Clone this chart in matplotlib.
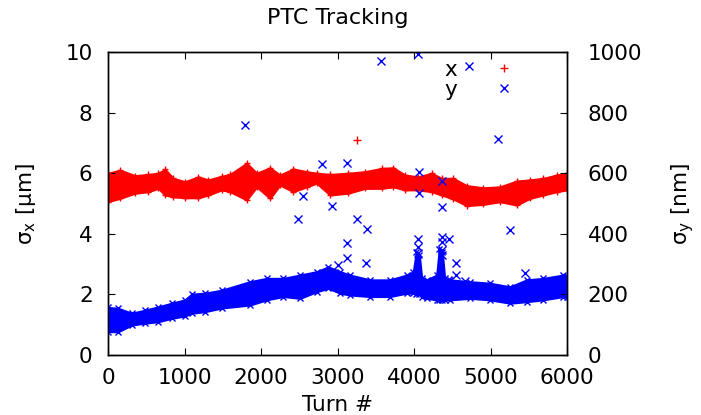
import matplotlib
matplotlib.use("Agg")
import matplotlib.pyplot as plt
from matplotlib.lines import Line2D

plt.rcParams['font.family'] = ['DejaVu Sans']
plt.rcParams['mathtext.default'] = 'regular'

# sigma_x band (um): turn, lower and upper edge of the point cloud
sx_turn = [0, 157, 353, 527, 658, 745, 854, 1007, 1180, 1311, 1486, 1595, 1813,
           1944, 2118, 2248, 2422, 2597, 2728, 2902, 3141, 3359, 3577, 3730,
           3882, 4056, 4231, 4362, 4514, 4689, 4906, 5124, 5342, 5516, 5690,
           5865, 6000]
sx_lo = [5.06, 5.17, 5.34, 5.39, 5.50, 5.28, 5.22, 5.19, 5.19, 5.28, 5.45, 5.39,
         5.12, 5.55, 5.17, 5.61, 5.39, 5.55, 5.67, 5.28, 5.34, 5.50, 5.50, 5.55,
         5.45, 5.45, 5.39, 5.28, 5.15, 4.93, 4.97, 5.06, 4.95, 5.17, 5.28, 5.39,
         5.45]
sx_hi = [6.00, 6.10, 5.92, 5.96, 6.00, 6.13, 5.83, 5.72, 5.88, 5.78, 5.90, 5.96,
         6.33, 6.00, 6.18, 5.94, 6.14, 6.05, 6.00, 5.96, 6.00, 6.05, 6.16, 6.18,
         5.94, 5.88, 6.00, 5.83, 5.83, 5.59, 5.52, 5.55, 5.74, 5.78, 5.83, 5.94,
         6.00]
sx_out_turn = [3255]
sx_out_val = [7.10]

# sigma_y band (nm)
sy_turn = [0, 135, 310, 484, 658, 832, 1007, 1094, 1268, 1486, 1856, 2074, 2292,
           2510, 2728, 2880, 3033, 3163, 3425, 3686, 3904, 3990, 4030, 4070,
           4100, 4166, 4297, 4330, 4370, 4400, 4471, 4732, 4993, 5255, 5473,
           5690, 5952, 6000]
sy_lo = [77, 77, 99, 105, 110, 121, 129, 138, 143, 155, 165, 182, 193, 187, 209,
         220, 204, 198, 193, 193, 204, 204, 200, 200, 190, 187, 182, 180, 180,
         182, 182, 187, 182, 171, 176, 182, 193, 193]
sy_hi = [157, 154, 138, 148, 159, 171, 182, 201, 204, 214, 242, 253, 253, 264,
         275, 291, 275, 264, 248, 248, 264, 275, 340, 330, 255, 248, 264, 350,
         340, 255, 248, 242, 237, 225, 248, 253, 264, 262]
sy_out_turn = [1790, 2800, 3125, 2550, 2930, 2480, 3120, 3120, 3010, 3570, 4050,
               4720, 5100, 4065, 4065, 4370, 4370, 3255, 3385, 3370, 5255, 5450,
               4549, 4460, 4449, 4549, 4667, 4057, 4057, 4057, 4362, 4362, 4362,
               4362]
sy_out_val = [759, 630, 634, 525, 492, 449, 370, 320, 297, 970, 993, 954, 713,
              604, 534, 574, 488, 449, 416, 303, 413, 271, 303, 383, 248, 264,
              244, 383, 357, 336, 390, 374, 346, 330]

fig = plt.figure(figsize=(7.01, 4.15), dpi=100)
ax = fig.add_axes([108 / 701, 60 / 415, 459 / 701, 303 / 415])
ax2 = ax.twinx()

red = '#ff0000'
blue = '#0000ff'

# dense clouds drawn as filled envelopes with point texture on the edges
ax.fill_between(sx_turn, sx_lo, sx_hi, color=red, lw=1.5)
ax.plot(sx_turn, sx_hi, '+', color=red, ms=4, mew=1)
ax.plot(sx_turn, sx_lo, '+', color=red, ms=4, mew=1)
ax.plot(sx_out_turn, sx_out_val, '+', color=red, ms=6, mew=1)

ax2.fill_between(sy_turn, sy_lo, sy_hi, color=blue, lw=1.5)
ax2.plot(sy_turn, sy_hi, 'x', color=blue, ms=4, mew=1)
ax2.plot(sy_turn, sy_lo, 'x', color=blue, ms=4, mew=1)
ax2.plot(sy_out_turn, sy_out_val, 'x', color=blue, ms=6, mew=1)

ax.set_xlim(0, 6000)
ax.set_ylim(0, 10)
ax2.set_ylim(0, 1000)
ax.set_xticks(range(0, 6001, 1000))
ax.set_yticks(range(0, 11, 2))
ax2.set_yticks(range(0, 1001, 200))

fs = 15.5
ax.tick_params(axis='x', direction='in', length=5, top=True, pad=9, labelsize=fs)
ax.tick_params(axis='y', direction='in', length=5, pad=11, labelsize=fs)
ax2.tick_params(axis='y', direction='in', length=5, pad=15, labelsize=fs)
for a in (ax, ax2):
    for s in a.spines.values():
        s.set_linewidth(1.0)

fig.text(337.5 / 701, 1 - 18 / 415, 'PTC Tracking', ha='center', va='center',
         fontsize=16)
fig.text(337.5 / 701, 1 - 405 / 415, 'Turn #', ha='center', va='center',
         fontsize=fs)
fig.text(26 / 701, 1 - 204 / 415, 'σ$_x$ [μm]', ha='center', va='center',
         rotation=90, fontsize=fs)
fig.text(683 / 701, 1 - 204 / 415, 'σ$_y$ [nm]', ha='center', va='center',
         rotation=90, fontsize=fs)

handles = [Line2D([], [], ls='none', marker='+', color=red, ms=6, mew=1),
           Line2D([], [], ls='none', marker='x', color=blue, ms=6, mew=1)]
ax2.legend(handles, ['x', 'y'], loc='upper right', frameon=False,
           markerfirst=False, fontsize=fs, handlelength=2, handletextpad=1.2,
           labelspacing=0.0, borderpad=0, borderaxespad=0,
           bbox_to_anchor=(526 / 701, 1 - 60 / 415),
           bbox_transform=fig.transFigure)

fig.savefig('out.png', dpi=100)
